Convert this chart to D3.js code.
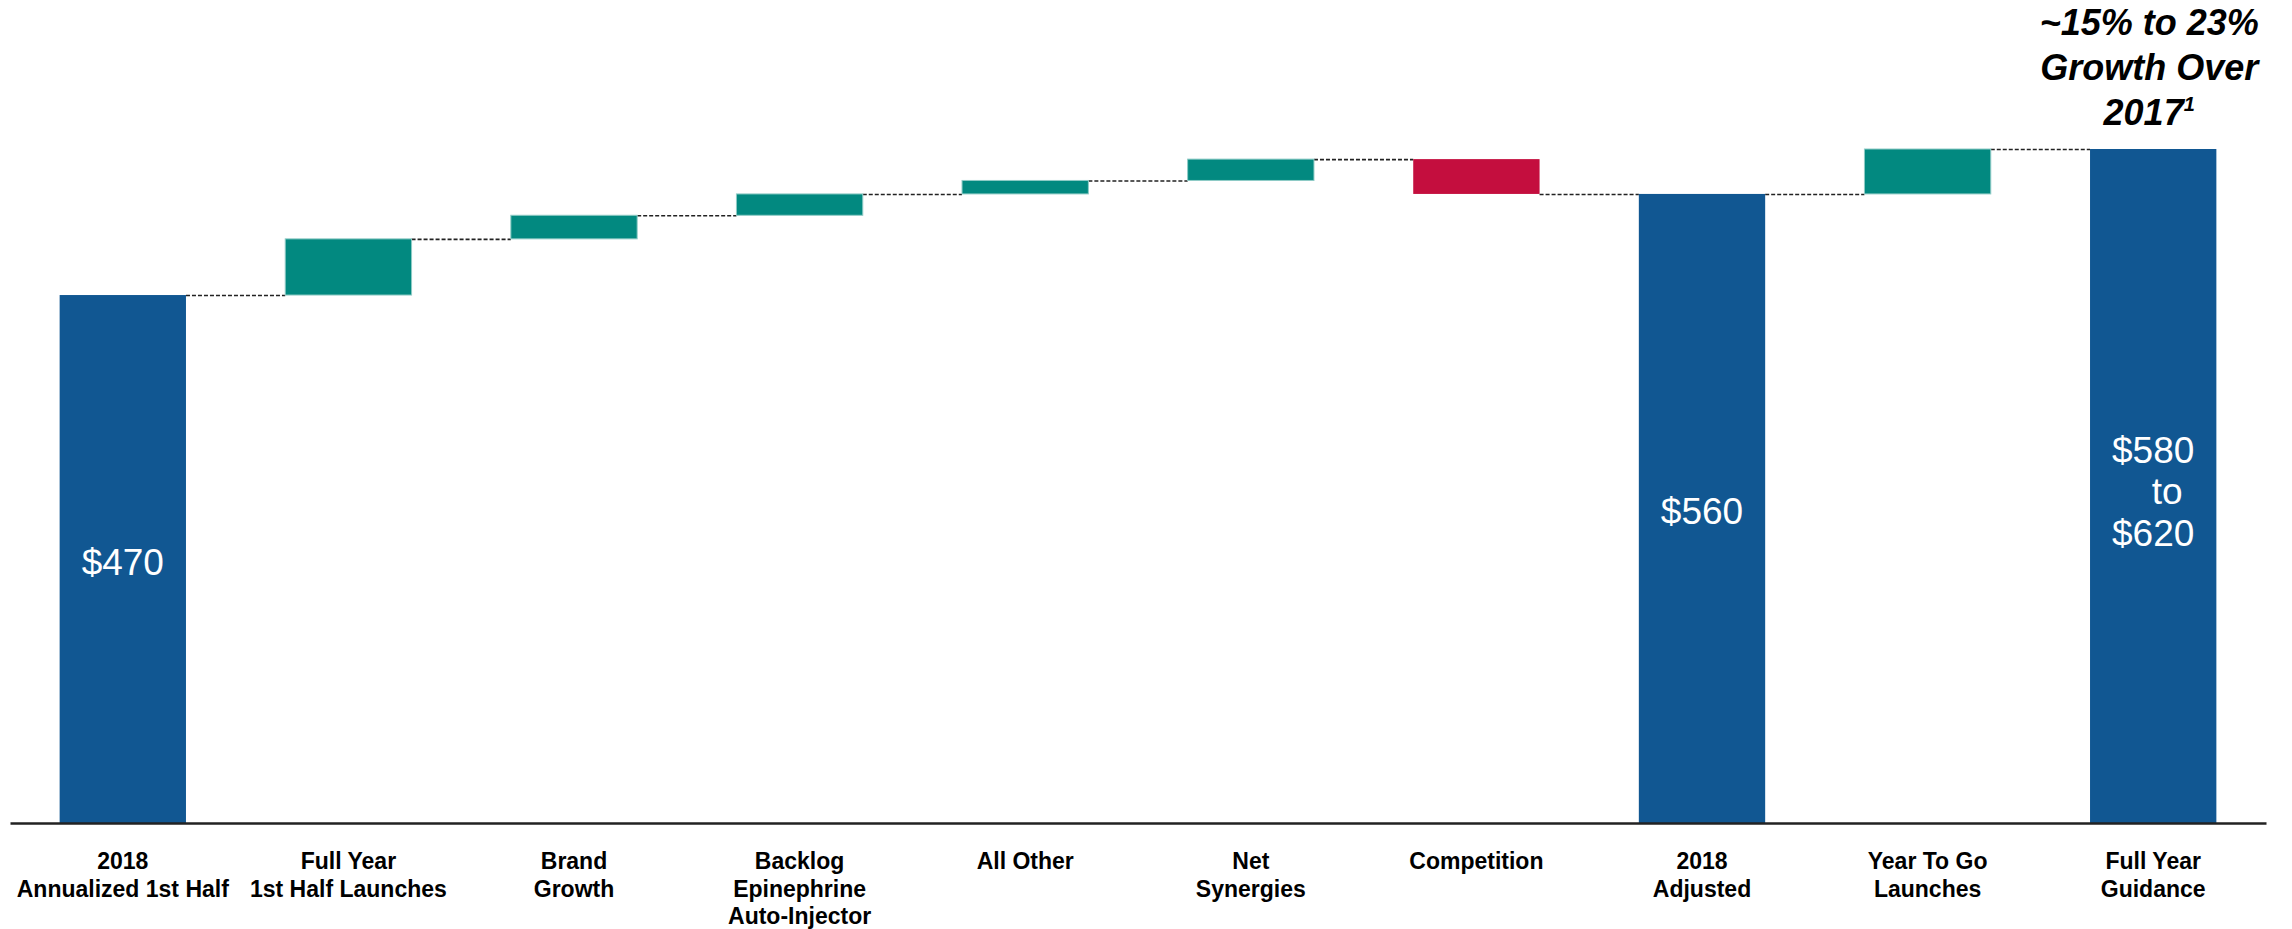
<!DOCTYPE html>
<html>
<head>
<meta charset="utf-8">
<script src="https://cdn.jsdelivr.net/npm/d3@7"></script>
<style>
  body { margin: 0; background: #fff; }
  svg { display: block; font-family: "Liberation Sans", Arial, sans-serif; }
</style>
</head>
<body>
<div id="chart"></div>
<script>
// categories (one line per entry)
const categories = [
  ["2018", "Annualized 1st Half"],
  ["Full Year", "1st Half Launches"],
  ["Brand", "Growth"],
  ["Backlog", "Epinephrine", "Auto-Injector"],
  ["All Other"],
  ["Net", "Synergies"],
  ["Competition"],
  ["2018", "Adjusted"],
  ["Year To Go", "Launches"],
  ["Full Year", "Guidance"]
];
// totals are absolute values, deltas are steps
const values = [470, 50, 21, 19, 12, 19, -31, 560, 40, 600];
const kinds = ["total", "delta", "delta", "delta", "delta", "delta", "delta", "total", "delta", "total"];
const valueLabels = [["$470"], [], [], [], [], [], [], ["$560"], [], ["$580", "to", "$620"]];
const titleLines = ["~15% to 23%", "Growth Over", "2017"];

const colors = { total: "#115792", up: "#028980", down: "#C40E3E" };

// running start / end of each bar
let running = 0;
const data = categories.map((c, i) => {
  let start, end;
  if (kinds[i] == "total") { start = 0; end = values[i]; running = values[i]; }
  else { start = running; end = running + values[i]; running = end; }
  return { id: i, lines: c, start: start, end: end, kind: kinds[i], delta: values[i], label: valueLabels[i] };
});

const W = 2292, H = 929;
const svg = d3.select("#chart").append("svg").attr("width", W).attr("height", H);

const xScale = d3.scaleBand()
  .domain(data.map(d => d.id))
  .range([10, 2266])
  .paddingInner(0.44)
  .paddingOuter(0.22);

const yScale = d3.scaleLinear()
  .domain([0, 600])
  .range([823, 149]);

//------connecteurs pointillés
const links = data.slice(0, -1).map((d, i) => ({ from: d, to: data[i + 1], level: d.end }));
svg.append("g").selectAll("line")
  .data(links)
  .enter()
  .append("line")
  .attr("x1", d => xScale(d.from.id) + xScale.bandwidth())
  .attr("x2", d => xScale(d.to.id))
  .attr("y1", d => yScale(d.level) + 0.5)
  .attr("y2", d => yScale(d.level) + 0.5)
  .attr("stroke", "#222")
  .attr("stroke-width", 1.6)
  .attr("stroke-dasharray", "4,2");

//------barres
svg.append("g").selectAll("rect")
  .data(data)
  .enter()
  .append("rect")
  .attr("x", d => xScale(d.id))
  .attr("width", xScale.bandwidth())
  .attr("y", d => yScale(Math.max(d.start, d.end)))
  .attr("height", d => Math.abs(yScale(d.start) - yScale(d.end)))
  .attr("fill", d => d.kind == "total" ? colors.total : (d.delta >= 0 ? colors.up : colors.down))
  .attr("stroke", d => d.kind == "delta" && d.delta >= 0 ? "#8fcbc6" : "none")
  .attr("stroke-width", 1);

//------axe x
const xAxis = svg.append("g")
  .attr("transform", `translate(0,${yScale(0)})`)
  .call(d3.axisBottom(xScale).tickSize(0).tickSizeOuter(0).tickFormat(""));
xAxis.select(".domain").attr("stroke", "#222").attr("stroke-width", 2.5);
xAxis.selectAll(".tick text").remove();

const catLabels = svg.append("g").selectAll("text")
  .data(data)
  .enter()
  .append("text")
  .attr("x", d => xScale(d.id) + xScale.bandwidth() / 2)
  .attr("y", yScale(0) + 46)
  .attr("text-anchor", "middle")
  .style("font-size", "23px")
  .style("font-weight", "bold")
  .style("fill", "#000");
catLabels.selectAll("tspan")
  .data(d => d.lines.map(l => ({ t: l, x: xScale(d.id) + xScale.bandwidth() / 2 })))
  .enter()
  .append("tspan")
  .attr("x", d => d.x)
  .attr("dy", (d, i) => i == 0 ? 0 : 27.5)
  .text(d => d.t);

//------valeurs dans les barres
const valLabels = svg.append("g").selectAll("text")
  .data(data.filter(d => d.label.length))
  .enter()
  .append("text")
  .attr("text-anchor", "middle")
  .style("font-size", "37px")
  .style("fill", "#fff")
  .attr("y", d => {
    const mid = (yScale(d.start) + yScale(d.end)) / 2;
    return mid + 16 - (d.label.length - 1) * 41.5 / 2 + (d.label.length > 1 ? 2 : 0);
  });
valLabels.selectAll("tspan")
  .data(d => d.label.map((l, i) => ({ t: l, x: xScale(d.id) + xScale.bandwidth() / 2 + (l == "to" ? 14 : 0) })))
  .enter()
  .append("tspan")
  .attr("x", d => d.x)
  .attr("dy", (d, i) => i == 0 ? 0 : 41.5)
  .text(d => d.t);

//------titre au-dessus de la dernière barre
const last = data[data.length - 1];
const title = svg.append("text")
  .attr("x", xScale(last.id) + xScale.bandwidth() / 2 - 4)
  .attr("y", 35)
  .attr("text-anchor", "middle")
  .style("font-size", "36px")
  .style("font-weight", "bold")
  .style("font-style", "italic")
  .style("fill", "#000");
title.selectAll("tspan.l")
  .data(titleLines)
  .enter()
  .append("tspan")
  .attr("class", "l")
  .attr("x", xScale(last.id) + xScale.bandwidth() / 2 - 4)
  .attr("dy", (d, i) => i == 0 ? 0 : 45)
  .text(d => d);
title.append("tspan")
  .attr("dy", -14)
  .style("font-size", "20px")
  .text("1");
</script>
</body>
</html>
